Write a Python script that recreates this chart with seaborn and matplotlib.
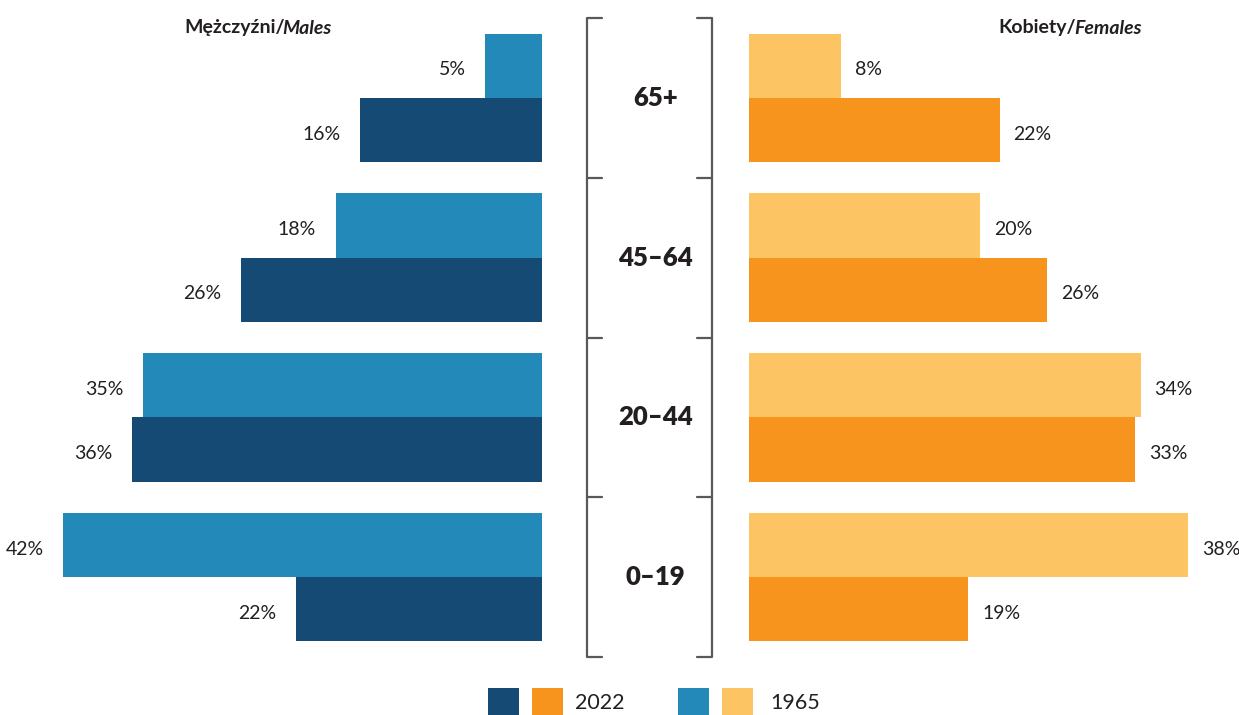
import matplotlib
matplotlib.use("Agg")
import matplotlib.pyplot as plt
import seaborn as sns
import pandas as pd
from matplotlib.patches import Rectangle

age_groups = ["65+", "45–64", "20–44", "0–19"]
years = ["1965", "2022"]
males_1965 = [5.0, 18.1, 35.0, 42.0]
males_2022 = [16.0, 26.4, 36.0, 21.6]
females_1965 = [8.0, 20.0, 33.9, 38.0]
females_2022 = [21.7, 25.8, 33.4, 19.0]

male_colors = {"1965": "#2389b8", "2022": "#154a75"}
female_colors = {"1965": "#fdc463", "2022": "#f7941d"}

sns.set_theme(style="white")
plt.rcParams["font.family"] = ["Lato", "DejaVu Sans"]

W, H = 1239, 715
fig = plt.figure(figsize=(W / 100, H / 100), dpi=100)

def fx(px):
    return px / W

def fy(py):
    return 1 - py / H

top_px, bot_px = 18, 657
ax_bottom = fy(bot_px)
ax_height = (bot_px - top_px) / H

def make_df(v65, v22):
    rows = []
    for g, a, b in zip(age_groups, v65, v22):
        rows.append({"age": g, "year": "1965", "value": a})
        rows.append({"age": g, "year": "2022", "value": b})
    return pd.DataFrame(rows)

dfm = make_df(males_1965, males_2022)
dff = make_df(females_1965, females_2022)

TXT = "#231f20"

# left (males)
axl = fig.add_axes([0, ax_bottom, fx(542), ax_height])
sns.barplot(data=dfm, y="age", x="value", hue="year", hue_order=years,
            order=age_groups, palette=male_colors, orient="h", width=0.805,
            ax=axl, legend=False, saturation=1, linewidth=0)
axl.set_xlim(542 / 11.4, 0)
axl.set_ylim(3.5, -0.5)
for cont in axl.containers:
    texts = axl.bar_label(cont, labels=[f"{v:.0f}%" for v in cont.datavalues],
                          padding=14, fontsize=14, color=TXT)
    for t in texts:
        t.xyann = (t.xyann[0], -3)

# right (females)
axr = fig.add_axes([fx(749), ax_bottom, fx(W - 749), ax_height])
sns.barplot(data=dff, y="age", x="value", hue="year", hue_order=years,
            order=age_groups, palette=female_colors, orient="h", width=0.805,
            ax=axr, legend=False, saturation=1, linewidth=0)
axr.set_xlim(0, (W - 749) / 11.55)
axr.set_ylim(3.5, -0.5)
for cont in axr.containers:
    texts = axr.bar_label(cont, labels=[f"{v:.0f}%" for v in cont.datavalues],
                          padding=10, fontsize=14, color=TXT)
    for t in texts:
        t.xyann = (t.xyann[0], -3)

for ax in (axl, axr):
    ax.set_axis_off()

# middle: brackets and age labels
axm = fig.add_axes([fx(587), ax_bottom, fx(712 - 587), ax_height])
axm.set_xlim(0, 1)
axm.set_ylim(3.5, -0.5)
axm.set_axis_off()
bc = "#58595b"
tick = 15 / (712 - 587)
for x0, sgn in ((0, 1), (1, -1)):
    axm.plot([x0, x0], [-0.5, 3.5], color=bc, lw=1.6, solid_capstyle="butt", clip_on=False)
    for yb in [-0.5, 0.5, 1.5, 2.5, 3.5]:
        axm.plot([x0, x0 + sgn * tick], [yb, yb], color=bc, lw=1.6, clip_on=False)
for i, g in enumerate(age_groups):
    axm.text(0.55, i, g, ha="center", va="center", fontsize=18.5,
             fontweight="heavy", color=TXT)

# titles
def title(xc, a, b):
    t1 = fig.text(0, 0, a, fontsize=14, fontweight="bold", color=TXT)
    t2 = fig.text(0, 0, b, fontsize=14, fontweight="bold", style="italic", color=TXT)
    fig.canvas.draw()
    r = fig.canvas.get_renderer()
    w1 = t1.get_window_extent(r).width - 2
    w2 = t2.get_window_extent(r).width
    x0 = xc - (w1 + w2) / 2
    t1.set_position((fx(x0), fy(28)))
    t2.set_position((fx(x0 + w1), fy(28)))
    t1.set_va("center"); t2.set_va("center")

title(258, "Mężczyźni/", "Males")
title(1070, "Kobiety/", "Females")

# legend
def sq(x, color):
    fig.add_artist(Rectangle((fx(x), fy(715)), fx(31), 27 / H, transform=fig.transFigure,
                             facecolor=color, edgecolor="none"))

sq(488, male_colors["2022"])
sq(532, female_colors["2022"])
fig.text(fx(575), fy(703), "2022", fontsize=15.5, va="center", color=TXT)
sq(678, male_colors["1965"])
sq(722, female_colors["1965"])
fig.text(fx(770), fy(703), "1965", fontsize=15.5, va="center", color=TXT)

fig.savefig("out.png", dpi=100, facecolor="white")
